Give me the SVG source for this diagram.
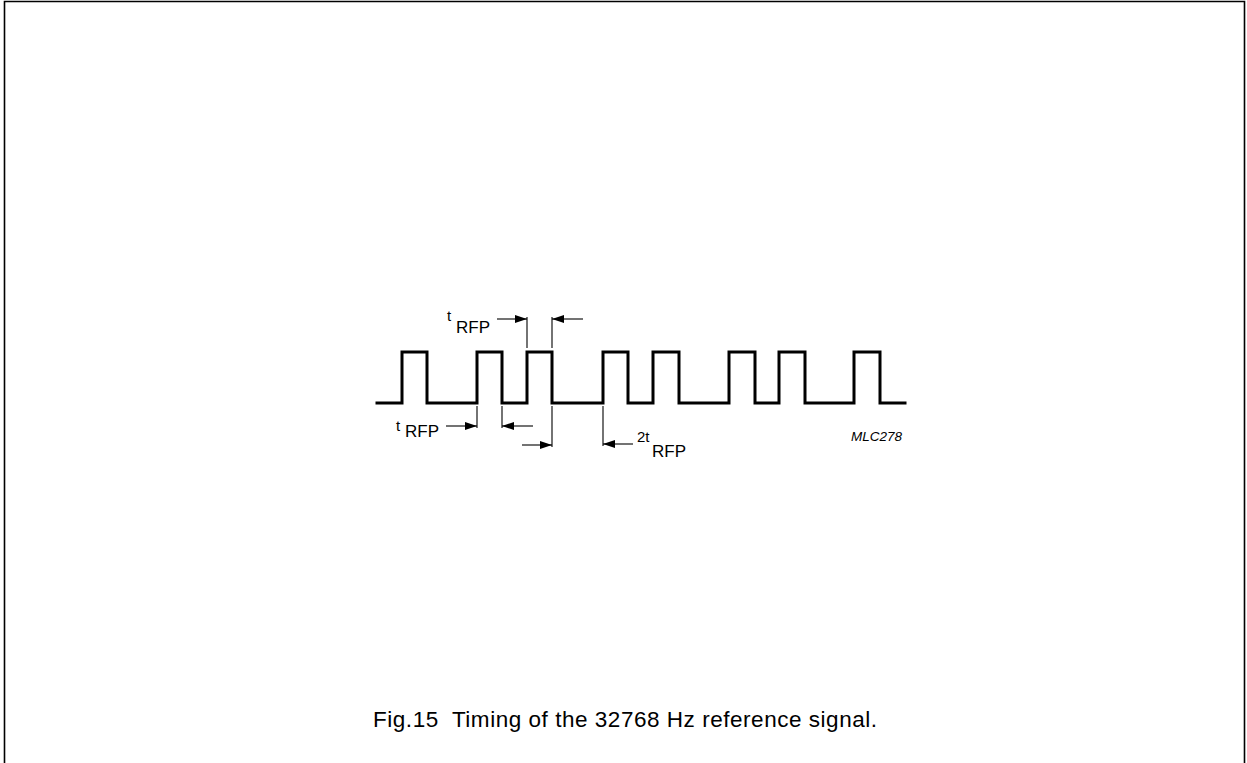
<svg xmlns="http://www.w3.org/2000/svg" width="1247" height="763" viewBox="0 0 1247 763">
  <style>
    .frame { fill: none; stroke: #000; stroke-width: 1.6; }
    .wave { fill: none; stroke: #000; stroke-width: 3; stroke-linejoin: miter; stroke-linecap: square; }
    .dim { fill: none; stroke: #000; stroke-width: 1.1; }
    .txt { font-family: "Liberation Sans", Arial, sans-serif; fill: #000; }
    .big { font-size: 17px; }
    .sm { font-size: 15px; }
  </style>
  <defs>
    <marker id="ah" viewBox="0 0 12 8" refX="12" refY="4" markerWidth="12" markerHeight="8" markerUnits="userSpaceOnUse" orient="auto">
      <path d="M0,0 L12,4 L0,8 Z" fill="#000"/>
    </marker>
  </defs>

  <rect width="1247" height="763" fill="#fff"/>
  <path class="frame" d="M4.5,763 V1.5 H1244.5 V763"/>

  <g id="signal">
    <path class="wave" d="M377,403 H402 V352 H427 V403 H477 V352 H502 V403 H527 V352 H552 V403 H603 V352 H628 V403 H653 V352 H679 V403 H729 V352 H755 V403 H779 V352 H805 V403 H854 V352 H880 V403 H905"/>
  </g>

  <g id="connectors">
    <line class="dim" x1="527" y1="317" x2="527" y2="348"/>
    <line class="dim" x1="552" y1="317" x2="552" y2="348"/>
    <line class="dim" x1="497" y1="319" x2="527" y2="319" marker-end="url(#ah)"/>
    <line class="dim" x1="583" y1="319" x2="552" y2="319" marker-end="url(#ah)"/>
    <line class="dim" x1="477" y1="406" x2="477" y2="428"/>
    <line class="dim" x1="502" y1="406" x2="502" y2="428"/>
    <line class="dim" x1="446" y1="426" x2="477" y2="426" marker-end="url(#ah)"/>
    <line class="dim" x1="533" y1="426" x2="502" y2="426" marker-end="url(#ah)"/>
    <line class="dim" x1="552" y1="406" x2="552" y2="447"/>
    <line class="dim" x1="603" y1="406" x2="603" y2="446"/>
    <line class="dim" x1="522" y1="445" x2="552" y2="445" marker-end="url(#ah)"/>
    <line class="dim" x1="633" y1="444" x2="603" y2="444" marker-end="url(#ah)"/>
  </g>

  <g id="label-top">
    <text class="txt sm" x="447" y="321">t</text>
    <text class="txt big" x="456" y="333">RFP</text>
  </g>
  <g id="label-bottom">
    <text class="txt sm" x="396" y="431">t</text>
    <text class="txt big" x="405" y="437">RFP</text>
  </g>
  <g id="label-2t">
    <text class="txt sm" x="637" y="442">2t</text>
    <text class="txt big" x="652" y="457">RFP</text>
  </g>
  <g id="code">
    <text class="txt" x="851" y="441" font-size="13.5" font-style="italic">MLC278</text>
  </g>
  <g id="caption">
    <text class="txt" x="373" y="726.5" font-size="22.5" xml:space="preserve" textLength="504" lengthAdjust="spacing">Fig.15  Timing of the 32768 Hz reference signal.</text>
  </g>
</svg>
